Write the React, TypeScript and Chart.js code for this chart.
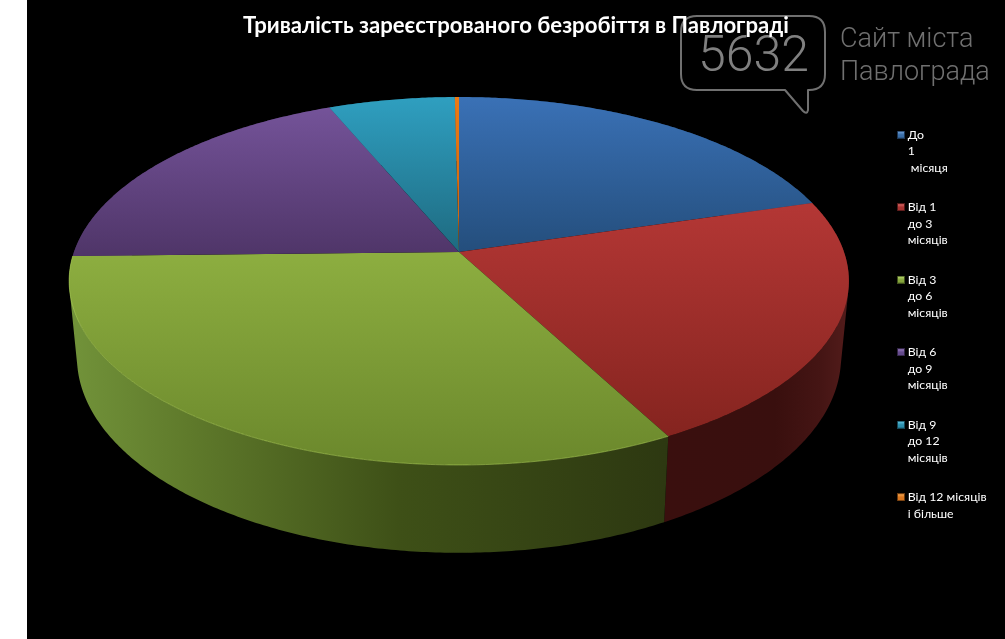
import React, { useEffect, useRef } from "react";
import { Chart, registerables } from "chart.js";

Chart.register(...registerables);

const titleText = "Тривалість зареєстрованого безробіття в Павлограді";
const categories: string[][] = [
  ["До", "1", " місяця"],
  ["Від 1", "до 3", "місяців"],
  ["Від 3", "до 6", "місяців"],
  ["Від 6", "до 9", "місяців"],
  ["Від 9", "до 12", "місяців"],
  ["Від 12 місяців", "і більше"],
];
const shares = [20.4, 21.85, 32.4, 19.05, 6.1, 0.2];
const swatchColors = ["#3a6ea8", "#a83432", "#86a63c", "#644a8c", "#2d90ae", "#d9761f"];
const swatchLightColors = ["#6f9fd8", "#e06a68", "#b8d670", "#9a7cc0", "#60c4e0", "#f8a850"];
const swatchEdgeColors = ["#1c3552", "#521a19", "#41511d", "#312445", "#164655", "#6a3a0f"];
const faceTopColors = ["#3a71b6", "#b43735", "#8dae40", "#745399", "#2f9fc0", "#ee7a14"];
const faceBottomColors = ["#244e7c", "#85241f", "#6b882c", "#4f3568", "#1e6a80", "#c8640c"];
const wallStops: [number, string][][] = [
  [[0, "#1c3a5c"], [1, "#1c3a5c"]],
  [[0, "#3a0f0e"], [0.6, "#390f0e"], [0.85, "#451514"], [1, "#531c1b"]],
  [[0, "#72933a"], [0.2, "#5f7a2b"], [0.55, "#3e5017"], [1, "#2d3811"]],
  [[0, "#3a2850"], [1, "#3a2850"]],
  [[0, "#164e5f"], [1, "#164e5f"]],
  [[0, "#8a4a10"], [1, "#8a4a10"]],
];

const OFFSET_X = 27;
const APEX_X = 459 - OFFSET_X;
const APEX_Y = 252;
const RADIUS = 385;
const TILT = 179.4;
const PERSPECTIVE = 0.1576;
const DEPTH = 74;
const BOTTOM_SCALE = 0.98;

function project(theta: number, lower: boolean) {
  const u = Math.sin(theta);
  const v = -Math.cos(theta);
  const w = 1 - PERSPECTIVE * v;
  const sc = lower ? BOTTOM_SCALE : 1;
  return {
    x: APEX_X + (sc * RADIUS * u) / w,
    y: APEX_Y + ((lower ? DEPTH : 0) + TILT * v) / w,
  };
}

function ringPoints(a: number, b: number, lower: boolean) {
  const n = Math.max(2, Math.ceil(Math.abs(b - a) / 0.01));
  const pts: { x: number; y: number }[] = [];
  for (let i = 0; i <= n; i++) pts.push(project(a + ((b - a) * i) / n, lower));
  return pts;
}

const pie3dPlugin = {
  id: "pie3d",
  beforeDatasetsDraw(chart: any) {
    const ctx = chart.ctx as CanvasRenderingContext2D;
    const arcs = chart.getDatasetMeta(0).data as any[];
    const slices = arcs.map((arc, i) => {
      const p = arc.getProps(["startAngle", "endAngle"], true);
      return { i, a: p.startAngle + Math.PI / 2, b: p.endAngle + Math.PI / 2 };
    });
    // side walls, back to front; every quad is wound the same way so that one
    // non-zero fill gives their union without seams
    [...slices]
      .sort((s, t) => Math.cos((t.a + t.b) / 2) - Math.cos((s.a + s.b) / 2))
      .forEach((s) => {
        const top = ringPoints(s.a, s.b, false);
        const bottom = ringPoints(s.a, s.b, true);
        const xs = [...top, ...bottom].map((p) => p.x);
        const g = ctx.createLinearGradient(Math.min(...xs), 0, Math.max(...xs), 0);
        wallStops[s.i].forEach(([o, c]) => g.addColorStop(o, c));
        ctx.fillStyle = g;
        ctx.beginPath();
        for (let k = 0; k < top.length - 1; k++) {
          const quad = [top[k], top[k + 1], bottom[k + 1], bottom[k]];
          let area = 0;
          quad.forEach((p, j) => {
            const q = quad[(j + 1) % 4];
            area += p.x * q.y - q.x * p.y;
          });
          if (area < 0) quad.reverse();
          quad.forEach((p, j) => (j ? ctx.lineTo(p.x, p.y) : ctx.moveTo(p.x, p.y)));
          ctx.closePath();
        }
        ctx.fill();
      });
    // top faces
    slices.forEach((s) => {
      const rim = ringPoints(s.a, s.b, false);
      const ys = [APEX_Y, ...rim.map((p) => p.y)];
      const g = ctx.createLinearGradient(0, Math.min(...ys), 0, Math.max(...ys));
      g.addColorStop(0, faceTopColors[s.i]);
      g.addColorStop(1, faceBottomColors[s.i]);
      ctx.beginPath();
      ctx.moveTo(APEX_X, APEX_Y);
      rim.forEach((p) => ctx.lineTo(p.x, p.y));
      ctx.closePath();
      ctx.fillStyle = g;
      ctx.fill();
      if (s.i === 2) {
        ctx.beginPath();
        rim.forEach((p, k) => (k ? ctx.lineTo(p.x, p.y) : ctx.moveTo(p.x, p.y)));
        ctx.strokeStyle = "rgba(175,210,90,0.55)";
        ctx.lineWidth = 1;
        ctx.stroke();
      }
    });
    return false;
  },
};

const watermarkPlugin = {
  id: "watermark",
  beforeDraw(chart: any) {
    const ctx = chart.ctx as CanvasRenderingContext2D;
    ctx.save();
    ctx.fillStyle = "#000";
    ctx.fillRect(0, 0, chart.width, chart.height);
    ctx.translate(-OFFSET_X, 0);
    ctx.strokeStyle = "#707070";
    ctx.lineWidth = 2;
    ctx.lineJoin = "round";
    ctx.beginPath();
    ctx.moveTo(697, 16);
    ctx.lineTo(809, 16);
    ctx.quadraticCurveTo(825, 16, 825, 32);
    ctx.lineTo(825, 74);
    ctx.quadraticCurveTo(825, 90, 809, 90);
    ctx.lineTo(808, 90);
    ctx.lineTo(808, 110);
    ctx.quadraticCurveTo(807, 115, 803, 111);
    ctx.lineTo(785, 90);
    ctx.lineTo(697, 90);
    ctx.quadraticCurveTo(681, 90, 681, 74);
    ctx.lineTo(681, 32);
    ctx.quadraticCurveTo(681, 16, 697, 16);
    ctx.closePath();
    ctx.stroke();
    ctx.textBaseline = "alphabetic";
    ctx.textAlign = "left";
    ctx.fillStyle = "#808080";
    ctx.font = "300 50px Roboto";
    ctx.fillText("5632", 698, 71);
    ctx.fillStyle = "#707070";
    ctx.font = "300 27px Roboto";
    ctx.fillText("Сайт міста", 840, 47);
    ctx.fillText("Павлограда", 840, 80);
    ctx.restore();
  },
};

const legendPlacePlugin = {
  id: "legendPlace",
  afterLayout(chart: any) {
    const lg = chart.legend;
    const width = lg.right - lg.left;
    lg.left = 877.5 - OFFSET_X;
    lg.right = lg.left + width;
    lg.top = 105.5;
    lg.bottom = 639;
  },
};

function makeSwatch(i: number) {
  const c = document.createElement("canvas");
  c.width = 8;
  c.height = 8;
  const x = c.getContext("2d") as CanvasRenderingContext2D;
  x.fillStyle = swatchEdgeColors[i];
  x.fillRect(0, 0, 8, 8);
  const g = x.createLinearGradient(0, 1, 0, 7);
  g.addColorStop(0, swatchLightColors[i]);
  g.addColorStop(0.5, swatchColors[i]);
  g.addColorStop(1, swatchColors[i]);
  x.fillStyle = g;
  x.fillRect(1, 1, 6, 6);
  return c;
}

export default function App() {
  const ref = useRef<HTMLCanvasElement>(null);
  useEffect(() => {
    const chart = new Chart(ref.current as HTMLCanvasElement, {
      type: "pie",
      data: {
        labels: categories.map((c) => c.join(" ")),
        datasets: [{ data: shares, backgroundColor: swatchColors, borderWidth: 0 }],
      },
      plugins: [watermarkPlugin, pie3dPlugin, legendPlacePlugin],
      options: {
        animation: false,
        responsive: false,
        plugins: {
          tooltip: { enabled: false },
          title: {
            display: true,
            text: titleText,
            color: "#ffffff",
            font: { family: "Lato, 'Open Sans', sans-serif", size: 22.15, weight: "bold" },
            padding: { top: 13, bottom: 0 },
          },
          legend: {
            display: true,
            position: "right",
            align: "start",
            labels: {
              usePointStyle: true,
              pointStyleWidth: 1,
              boxHeight: 8,
              padding: 23,
              color: "#ffffff",
              font: { family: "Lato, 'Open Sans', sans-serif", size: 12.3, lineHeight: "16.5px" },
              generateLabels: () =>
                categories.map((text, i) => ({
                  text,
                  fillStyle: swatchColors[i],
                  strokeStyle: swatchEdgeColors[i],
                  pointStyle: makeSwatch(i),
                  lineWidth: 1,
                  hidden: false,
                  index: i,
                  fontColor: "#ffffff",
                })) as any,
            },
          },
        },
      } as any,
    });
    return () => chart.destroy();
  }, []);
  return (
    <div style={{ position: "absolute", left: 27, top: 0, width: 978, height: 639, background: "#000", overflow: "hidden" }}>
      <canvas ref={ref} width={978} height={639} style={{ display: "block" }} />
    </div>
  );
}
